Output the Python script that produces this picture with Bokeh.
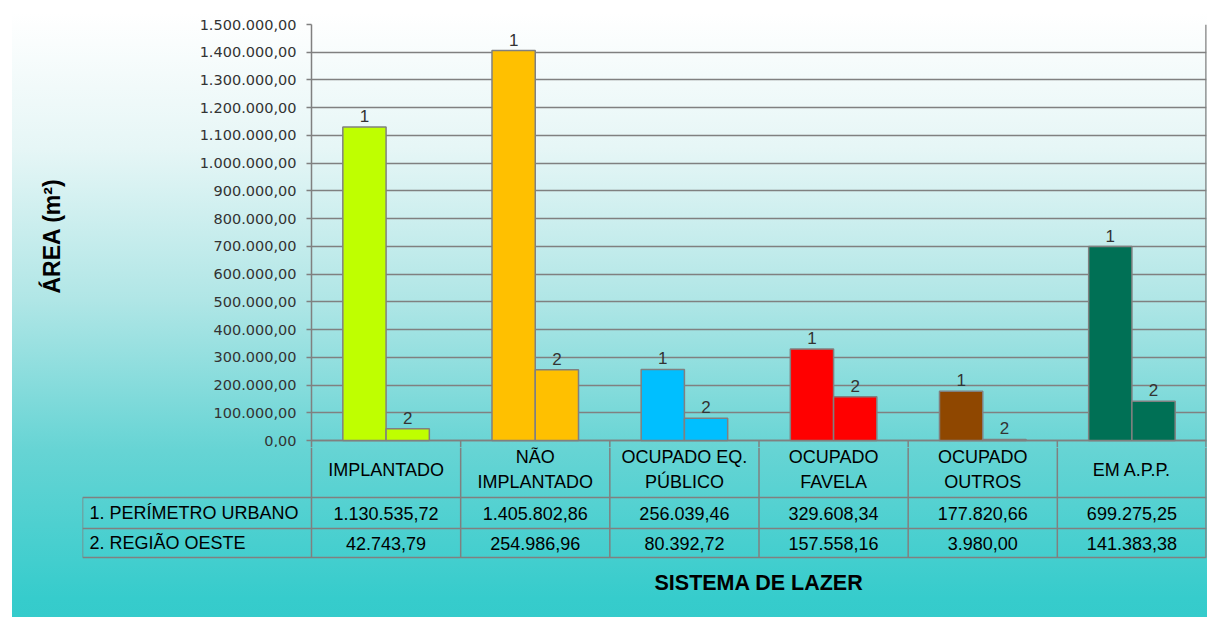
from bokeh.plotting import figure
from bokeh.models import Range1d, FixedTicker, CustomJSTickFormatter, ColumnDataSource
from bokeh.transform import dodge
from bokeh.core.properties import value
from bokeh.embed import file_html
from bokeh.resources import INLINE

# ---------------- data ----------------
categories = ["IMPLANTADO", "NÃO IMPLANTADO", "OCUPADO EQ. PÚBLICO",
              "OCUPADO FAVELA", "OCUPADO OUTROS", "EM A.P.P."]
category_lines = ["IMPLANTADO", "NÃO\nIMPLANTADO", "OCUPADO EQ.\nPÚBLICO",
                  "OCUPADO\nFAVELA", "OCUPADO\nOUTROS", "EM A.P.P."]
series_names = ["1. PERÍMETRO URBANO", "2. REGIÃO OESTE"]
series_tags = ["1", "2"]
perimetro_urbano = [1130535.72, 1405802.86, 256039.46, 329608.34, 177820.66, 699275.25]
regiao_oeste = [42743.79, 254986.96, 80392.72, 157558.16, 3980.00, 141383.38]
bar_colors = ["#BFFF00", "#FFC000", "#00BFFF", "#FF0000", "#8F4700", "#007055"]
y_ticks = list(range(0, 1500001, 100000))
y_max = 1500000
y_title = "ÁREA (m²)"
x_title = "SISTEMA DE LAZER"


def fmt_br(v):
    s = f"{v:,.2f}"
    return s.replace(",", "X").replace(".", ",").replace("X", ".")


# ---------------- layout constants (pixels) ----------------
W = 1207
H_ALL = 617
TOP = 24            # frame top (1.500.000)
ZERO = 440          # pixel row of value 0 / table top
EXT = 7             # top frame extends below zero (table piece)
H_TOP = ZERO + EXT
H_BOT = H_ALL - H_TOP
LEFT_TOP = 311
RIGHT = 1
FRAME_W = W - LEFT_TOP - RIGHT
PX_PER_UNIT = FRAME_W / 6.0
LEFT_BOT = 82
L_UNITS = (W - LEFT_BOT - RIGHT) / PX_PER_UNIT - 6.0
Y_START = -EXT / (ZERO - TOP) * y_max
GRID = "#808080"
TXT_FONT = value("Liberation Sans")
TITLE_FONT_NAME = "Liberation Sans"
GRAD = ("linear-gradient(to bottom, #FFFFFF 0%, #FFFFFF 2%, #E6F6F6 24%, #B0E6E6 48.6%, "
        "#66D4D4 73%, #36CCCC 97%, #35CBCB 100%)")
WHITE = "linear-gradient(#FFFFFF, #FFFFFF)"

xs = [i + 0.5 for i in range(len(categories))]
src = ColumnDataSource(dict(x=xs, s1=perimetro_urbano, s2=regiao_oeste, color=bar_colors,
                            t1=[series_tags[0]] * 6, t2=[series_tags[1]] * 6))

# ---------------- top chart ----------------
p1 = figure(width=W, height=H_TOP, x_range=Range1d(0, 6), y_range=Range1d(Y_START, y_max),
            output_backend="svg", toolbar_location=None, x_axis_location=None,
            min_border_left=LEFT_TOP, min_border_right=RIGHT, min_border_top=TOP, min_border_bottom=0)
p1.background_fill_color = None
p1.border_fill_color = None
p1.outline_line_color = None
p1.styles = {"background": f"{WHITE} 0 0 / 12px 100% no-repeat, {WHITE} 0 0 / 100% 12px no-repeat, "
                           f"{GRAD} 0 0 / 100% {H_ALL}px no-repeat"}

p1.xgrid.visible = False
p1.ygrid.grid_line_color = GRID
p1.ygrid.grid_line_width = 1.5
p1.ygrid.ticker = FixedTicker(ticks=y_ticks)

ax = p1.yaxis[0]
ax.ticker = FixedTicker(ticks=y_ticks)
ax.formatter = CustomJSTickFormatter(code="""
const s = tick.toFixed(2);
const parts = s.split('.');
const i = parts[0].replace(/\\B(?=(\\d{3})+(?!\\d))/g, '.');
return i + ',' + parts[1];
""")
ax.axis_line_color = GRID
ax.axis_line_width = 1.5
ax.major_tick_line_color = GRID
ax.major_tick_line_width = 1.5
ax.major_tick_out = 5
ax.major_tick_in = 0
ax.minor_tick_line_color = None
ax.major_label_text_font = "DejaVu Sans"
ax.major_label_text_font_size = "14.5px"
ax.major_label_text_color = "#333333"
ax.major_label_standoff = 10
ax.axis_label = y_title
ax.axis_label_text_font = TITLE_FONT_NAME
ax.axis_label_text_font_style = "bold"
ax.axis_label_text_font_size = "23px"
ax.axis_label_text_color = "#000000"
ax.axis_label_standoff = 132

# right border and table piece inside the top frame
p1.segment(x0=[6], y0=[Y_START], x1=[6], y1=[y_max], line_color=GRID, line_width=2.5)
p1.segment(x0=[-0.03], y0=[0], x1=[6], y1=[0], line_color=GRID, line_width=1.5)
p1.segment(x0=list(range(1, 6)), y0=[Y_START] * 5, x1=list(range(1, 6)), y1=[0] * 5,
           line_color=GRID, line_width=1.5)

BW = 0.29
p1.vbar(x=dodge("x", -BW / 2, range=p1.x_range), top="s1", width=BW, source=src,
        fill_color="color", line_color=GRID, line_width=1.5)
p1.vbar(x=dodge("x", BW / 2, range=p1.x_range), top="s2", width=BW, source=src,
        fill_color="color", line_color=GRID, line_width=1.5)
p1.text(x=dodge("x", -BW / 2, range=p1.x_range), y="s1", text="t1", source=src,
        text_align="center", text_baseline="bottom", y_offset=-5,
        text_font=TXT_FONT, text_font_size="17px", text_color="#333333")
p1.text(x=dodge("x", BW / 2, range=p1.x_range), y="s2", text="t2", source=src,
        text_align="center", text_baseline="bottom", y_offset=-5,
        text_font=TXT_FONT, text_font_size="17px", text_color="#333333")

# ---------------- data table below ----------------
p2 = figure(width=W, height=H_BOT, x_range=Range1d(-L_UNITS, 6), y_range=Range1d(-(H_BOT + EXT), -EXT),
            output_backend="svg", toolbar_location=None, x_axis_location=None, y_axis_location=None,
            min_border_left=LEFT_BOT, min_border_right=RIGHT, min_border_top=0, min_border_bottom=0)
p2.background_fill_color = None
p2.border_fill_color = None
p2.outline_line_color = None
p2.grid.visible = False
p2.styles = {"background": f"{WHITE} 0 0 / 12px 100% no-repeat, "
                           f"{GRAD} 0 -{H_TOP}px / 100% {H_ALL}px no-repeat"}

ROW_TOP = [0, -57, -88]
ROW_BOT = [-57, -88, -117]
hy = [-57, -88, -117]
p2.segment(x0=[-L_UNITS] * 3, y0=hy, x1=[6] * 3, y1=hy, line_color=GRID, line_width=1.5)
vx = [-L_UNITS] + list(range(0, 6))
vy0 = [-57] + [-EXT] * 6
vy1 = [-117] * 7
p2.segment(x0=vx, y0=vy0, x1=vx, y1=vy1, line_color=GRID, line_width=1.5)
p2.segment(x0=[6], y0=[-EXT], x1=[6], y1=[-117], line_color=GRID, line_width=2.5)

p2.text(x=xs, y=[-29] * 6, text=category_lines,
        text_align="center", text_baseline="middle", text_line_height=1.25,
        text_font=TXT_FONT, text_font_size="18px", text_color="#000000")
for r, vals in enumerate([perimetro_urbano, regiao_oeste]):
    yc = (ROW_TOP[r + 1] + ROW_BOT[r + 1]) / 2
    p2.text(x=xs, y=[yc] * 6, text=[fmt_br(v) for v in vals],
            text_align="center", text_baseline="middle",
            text_font=TXT_FONT, text_font_size="18px", text_color="#000000")
    p2.text(x=[-L_UNITS], y=[yc], text=[series_names[r]], x_offset=7,
            text_align="left", text_baseline="middle",
            text_font=TXT_FONT, text_font_size="18px", text_color="#000000")

p2.text(x=[3], y=[-142], text=[x_title], text_align="center", text_baseline="middle",
        text_font=value(TITLE_FONT_NAME), text_font_style="bold", text_font_size="21.5px",
        text_color="#000000")

open("out.html", "w").write(file_html([p1, p2], INLINE))
